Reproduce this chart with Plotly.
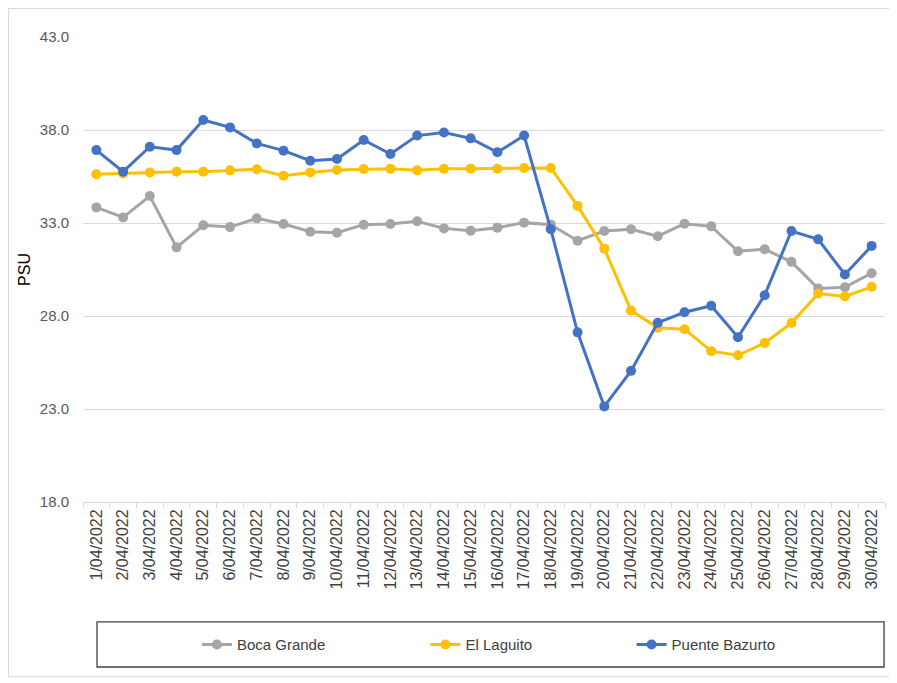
import plotly.graph_objects as go

dates = [f"{d}/04/2022" for d in range(1, 31)]

boca_grande = [33.84, 33.30, 34.45, 31.69, 32.88, 32.78, 33.25, 32.95, 32.53, 32.48,
               32.91, 32.95, 33.09, 32.71, 32.59, 32.75, 33.02, 32.91, 32.05, 32.57,
               32.66, 32.29, 32.96, 32.82, 31.48, 31.59, 30.91, 29.48, 29.55, 30.30]
el_laguito = [35.62, 35.67, 35.72, 35.76, 35.76, 35.83, 35.89, 35.54, 35.72, 35.85,
              35.90, 35.92, 35.83, 35.92, 35.92, 35.92, 35.96, 35.96, 33.92, 31.62,
              28.29, 27.37, 27.29, 26.11, 25.89, 26.55, 27.62, 29.21, 29.05, 29.57]
puente_bazurto = [36.92, 35.76, 37.10, 36.92, 38.54, 38.14, 37.28, 36.89, 36.35, 36.44,
                  37.46, 36.71, 37.70, 37.87, 37.55, 36.80, 37.70, 32.66, 27.12, 23.14,
                  25.05, 27.64, 28.20, 28.55, 26.86, 29.12, 32.57, 32.12, 30.23, 31.77]

series_names = ["Boca Grande", "El Laguito", "Puente Bazurto"]
series_values = [boca_grande, el_laguito, puente_bazurto]
colors = ["#A5A5A5", "#FFC000", "#4472C4"]
legend_ids = ["legend", "legend2", "legend3"]
legend_x = [0.142, 0.427, 0.684]

FONT = "Liberation Sans, Arial, sans-serif"

fig = go.Figure()
for name, vals, col, lid in zip(series_names, series_values, colors, legend_ids):
    fig.add_trace(go.Scatter(
        x=dates, y=vals, name=name, mode="lines+markers",
        line=dict(color=col, width=3),
        marker=dict(color=col, size=10),
        legend=lid,
    ))

legend_common = dict(orientation="h", yanchor="middle", xanchor="left",
                     y=-0.307, bgcolor="rgba(0,0,0,0)",
                     font=dict(family=FONT, size=15, color="#404040"))
layout_legends = {}
for lid, lx in zip(legend_ids, legend_x):
    layout_legends[lid] = dict(x=lx, **legend_common)

fig.update_layout(
    width=889, height=675,
    margin=dict(l=75, r=12, t=29, b=181),
    paper_bgcolor="white", plot_bgcolor="white",
    showlegend=True,
    font=dict(family=FONT, color="#595959"),
    xaxis=dict(
        type="category", range=[-0.5, 29.5],
        tickson="boundaries", ticks="outside", ticklen=5, tickcolor="#D9D9D9",
        showline=True, linecolor="#D9D9D9", linewidth=1,
        showgrid=False, tickangle=-90,
        tickfont=dict(family=FONT, size=16, color="#404040"),
    ),
    yaxis=dict(
        range=[18, 43], dtick=5, tick0=18, tickformat=".1f",
        showgrid=True, gridcolor="#D9D9D9", gridwidth=1,
        zeroline=False, showline=False,
        ticks="outside", ticklen=10, tickcolor="rgba(0,0,0,0)",
        tickfont=dict(family=FONT, size=15, color="#595959"),
        title=dict(text="PSU", standoff=5,
                   font=dict(family=FONT, size=16, color="#000000")),
    ),
    **layout_legends,
)

# outer chart border
fig.add_shape(type="rect", xref="paper", yref="paper",
              x0=-0.0929, x1=1.0075, y0=-0.376, y1=1.0613,
              line=dict(color="#D9D9D9", width=1), layer="below")
# legend box
fig.add_shape(type="rect", xref="paper", yref="paper",
              x0=0.0175, x1=0.9988, y0=-0.3548, y1=-0.258,
              line=dict(color="#404040", width=1.3), layer="below")

fig.write_html("out.html")
